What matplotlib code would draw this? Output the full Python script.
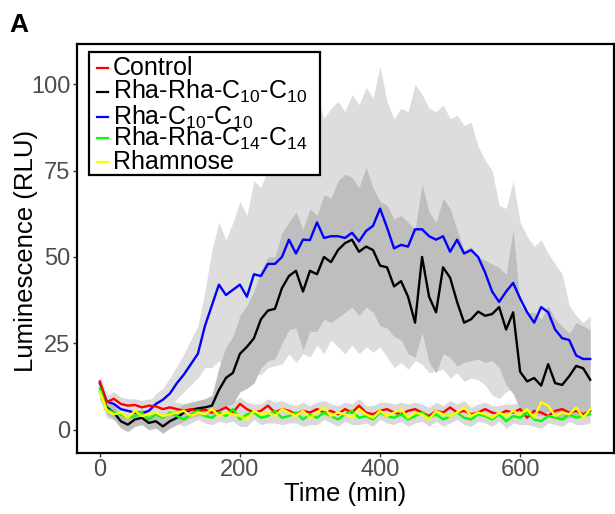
import matplotlib as mpl
mpl.use("Agg")
from matplotlib import pyplot as plt
from matplotlib.patches import Rectangle
from matplotlib.lines import Line2D
import numpy as np

mpl.rcParams["font.family"] = ["Liberation Sans", "DejaVu Sans"]
mpl.rcParams["mathtext.fontset"] = "custom"
mpl.rcParams["mathtext.rm"] = "Liberation Sans"
mpl.rcParams["mathtext.it"] = "Liberation Sans"

# time in minutes, one reading every 10 min
time = np.arange(0, 701, 10)

blue = [13.5, 8.2, 7.5, 6.0, 5.5, 5.0, 4.8, 5.5, 7.5, 8.7,
        10.5, 13.5, 16.0, 19.0, 22.0, 30.0, 36.0, 42.0, 39.0, 40.5,
        42.0, 38.5, 45.0, 44.5, 48.0, 48.0, 50.0, 55.0, 51.0, 55.0,
        54.9, 60.0, 55.5, 56.0, 56.0, 55.5, 57.0, 54.5, 57.5, 59.0,
        64.0, 58.5, 52.5, 53.5, 53.0, 58.0, 58.0, 56.0, 55.0, 56.0,
        51.5, 55.0, 51.0, 52.0, 50.0, 45.5, 40.0, 37.0, 40.0, 42.5,
        38.0, 34.0, 31.0, 35.5, 34.0, 29.0, 26.5, 26.0, 21.5, 20.5,
        20.5]
blue_hi = [15.5, 10.5, 9.5, 8.0, 7.5, 7.0, 7.0, 8.0, 10.5, 12.0,
           15.0, 18.5, 22.0, 26.0, 30.0, 40.0, 52.0, 60.0, 55.0, 60.0,
           66.0, 62.0, 72.0, 70.0, 76.0, 78.0, 82.0, 88.0, 84.0, 88.0,
           92.0, 96.0, 90.0, 93.0, 95.0, 92.0, 97.0, 94.0, 99.0, 96.0,
           105.0, 95.0, 90.0, 93.0, 92.0, 100.0, 97.0, 93.0, 92.0, 94.0,
           90.0, 91.0, 88.0, 89.0, 82.0, 78.0, 75.0, 65.0, 64.0, 72.0,
           60.0, 56.0, 53.0, 55.0, 51.0, 48.0, 45.0, 36.0, 33.0, 31.0,
           33.0]
blue_lo = [11.5, 6.0, 5.5, 4.0, 3.5, 3.0, 3.0, 3.5, 5.0, 6.0,
           7.0, 9.0, 11.0, 13.0, 15.0, 18.0, 18.0, 20.0, 17.0, 16.0,
           16.0, 13.0, 16.0, 16.0, 18.0, 18.5, 19.0, 22.0, 19.5, 22.0,
           21.0, 24.5, 22.0, 26.0, 24.0, 22.0, 24.5, 22.0, 24.0, 22.5,
           24.0, 21.0, 18.0, 19.5, 17.5, 20.0, 19.0, 16.5, 17.0, 17.5,
           15.0, 16.5, 14.0, 15.0, 14.5, 13.0, 10.0, 9.0, 11.0, 12.0,
           10.0, 9.5, 8.0, 10.0, 9.5, 8.5, 8.0, 9.5, 8.0, 8.5,
           9.0]

black = [11.0, 6.5, 5.0, 2.5, 1.5, 3.0, 3.5, 2.0, 2.5, 1.0,
         2.5, 3.5, 5.0, 5.8, 6.2, 6.5, 7.0, 11.5, 15.0, 16.5,
         22.0, 24.0, 26.5, 32.0, 34.5, 35.0, 41.0, 44.5, 46.0, 40.0,
         46.0, 45.0, 50.0, 48.5, 52.0, 54.0, 55.0, 51.5, 53.0, 52.0,
         47.5, 47.0, 41.5, 43.0, 38.5, 31.0, 50.0, 38.5, 34.0, 47.0,
         44.0, 37.0, 31.0, 32.0, 34.2, 33.0, 33.5, 35.5, 29.0, 34.0,
         16.8, 14.0, 15.0, 12.8, 19.0, 13.5, 13.0, 15.5, 18.5, 17.8,
         14.5]
black_hi = [13.0, 8.5, 7.0, 5.0, 4.0, 5.5, 6.0, 4.5, 5.0, 3.5,
            5.0, 6.0, 7.5, 8.0, 8.5, 9.0, 10.0, 18.0, 24.0, 27.0,
            33.0, 36.0, 40.0, 46.0, 50.0, 50.0, 57.0, 60.0, 63.0, 58.0,
            64.0, 62.0, 68.0, 67.0, 72.0, 74.0, 73.0, 70.0, 76.0, 70.0,
            66.0, 65.0, 61.0, 62.0, 60.0, 58.0, 71.0, 63.0, 60.0, 67.0,
            64.0, 58.0, 52.0, 53.0, 50.0, 49.0, 48.0, 47.0, 45.0, 58.0,
            36.0, 34.0, 34.0, 32.0, 36.0, 32.0, 30.0, 28.0, 31.0, 30.0,
            29.0]
black_lo = [9.0, 4.5, 3.0, 0.5, -0.5, 1.0, 1.5, 0.0, 0.5, -1.0,
            0.5, 1.5, 2.5, 3.5, 4.0, 4.0, 4.5, 6.0, 7.0, 7.5,
            11.0, 12.0, 13.5, 18.0, 20.0, 20.5, 25.0, 29.0, 29.5, 23.0,
            28.5, 28.5, 32.0, 31.0, 32.5, 34.0, 35.5, 33.0, 35.5, 34.0,
            30.0, 29.5, 27.0, 26.0, 22.0, 21.0, 28.0, 19.5, 16.5, 22.0,
            21.0, 18.5, 19.5, 20.0, 20.5, 19.5, 20.0, 18.0, 13.0, 10.5,
            6.0, 5.0, 4.5, 4.0, 5.5, 3.5, 3.0, 3.5, 4.0, 4.0,
            4.5]

red = [14.0, 8.0, 9.0, 7.5, 7.0, 7.2, 6.5, 7.0, 6.8, 6.0,
       6.5, 6.0, 5.5, 6.0, 5.5, 5.8, 5.0, 5.5, 6.5, 5.0,
       7.5, 6.0, 5.0, 5.5, 7.0, 5.0, 6.0, 5.5, 4.5, 5.5,
       5.0, 6.0, 5.0, 5.5, 4.5, 6.0, 5.0, 7.0, 5.0, 4.5,
       5.5, 6.0, 5.0, 4.5, 5.5, 6.0, 5.0, 4.0, 5.5, 5.0,
       6.5, 5.0, 5.5, 4.5, 5.0, 6.0, 5.0, 4.5, 5.5, 5.0,
       6.0, 3.5, 5.5, 5.0, 4.0, 5.5, 6.0, 5.0, 5.5, 4.5,
       5.5]
green = [12.0, 6.0, 5.0, 4.5, 3.5, 4.0, 5.0, 3.0, 4.5, 3.5,
         5.0, 4.0, 3.0, 4.5, 5.5, 4.0, 3.5, 5.0, 4.0, 6.0,
         3.0, 4.5, 5.0, 3.5, 4.0, 5.5, 3.5, 4.0, 5.0, 3.0,
         4.5, 3.5, 5.0, 4.0, 3.0, 4.5, 5.5, 3.5, 4.0, 3.0,
         5.0, 4.0, 3.5, 4.5, 3.0, 4.0, 5.0, 3.5, 4.5, 3.0,
         4.0, 5.0, 3.5, 3.0, 4.5, 4.0, 3.0, 4.5, 2.5, 4.0,
         3.5, 5.0, 3.0, 2.5, 4.0, 3.5, 3.0, 4.5, 3.5, 4.0,
         4.5]
yellow = [11.0, 5.5, 4.5, 5.0, 3.5, 5.5, 4.0, 4.5, 5.0, 4.0,
          4.5, 5.0, 5.5, 4.0, 5.0, 4.5, 6.0, 4.0, 5.0, 4.5,
          4.0, 3.0, 5.5, 4.5, 5.0, 4.0, 6.0, 5.0, 4.0, 5.5,
          3.5, 5.0, 6.5, 4.0, 5.0, 4.5, 3.5, 6.0, 4.5, 3.5,
          5.5, 4.0, 5.0, 6.0, 3.5, 5.0, 4.5, 3.0, 5.5, 4.5,
          4.0, 5.0, 6.5, 4.0, 5.0, 4.5, 3.5, 5.0, 4.0, 5.5,
          4.5, 6.0, 3.5, 8.0, 7.0, 4.0, 5.0, 4.5, 6.5, 3.5,
          6.0]
# envelope of the three flat series
flat_hi = [15.5, 10.0, 11.0, 9.5, 9.0, 9.0, 8.5, 9.0, 8.5, 8.0,
           8.5, 8.0, 7.5, 8.0, 8.0, 8.0, 8.0, 7.5, 8.5, 8.0,
           9.5, 8.0, 7.5, 7.5, 9.0, 8.0, 8.5, 7.5, 7.0, 8.0,
           7.0, 8.0, 8.5, 7.5, 7.0, 8.0, 7.5, 9.0, 7.0, 7.0,
           8.0, 8.0, 7.5, 8.0, 7.5, 8.0, 7.5, 6.5, 8.0, 7.0,
           8.5, 7.5, 8.5, 6.5, 7.5, 8.0, 7.0, 7.0, 7.5, 7.5,
           8.0, 8.0, 7.5, 10.0, 9.0, 7.5, 8.0, 7.0, 8.5, 6.5,
           8.0]
flat_lo = [9.0, 3.5, 3.0, 2.5, 1.5, 2.0, 2.0, 1.0, 2.5, 1.5,
           2.5, 2.0, 1.0, 2.0, 3.0, 2.0, 1.5, 2.5, 2.0, 2.5,
           1.0, 1.0, 3.0, 1.5, 2.0, 2.0, 1.5, 2.0, 2.0, 1.0,
           1.5, 1.5, 3.0, 2.0, 1.0, 2.5, 1.5, 1.5, 2.0, 1.0,
           3.0, 2.0, 1.5, 2.5, 1.0, 2.0, 2.5, 1.0, 2.5, 1.0,
           2.0, 3.0, 1.5, 1.0, 2.5, 2.0, 1.0, 2.5, 0.5, 2.0,
           1.5, 1.5, 1.0, 0.5, 2.0, 1.5, 1.0, 2.5, 1.5, 1.5,
           2.0]

labels = ["Control", "Rha-Rha-C$_{10}$-C$_{10}$", "Rha-C$_{10}$-C$_{10}$",
          "Rha-Rha-C$_{14}$-C$_{14}$", "Rhamnose"]
colors = ["#FF0000", "#000000", "#0000FF", "#00FF00", "#FFFF00"]

fig = plt.figure(figsize=(6.15, 5.14), dpi=100)
ax = fig.add_axes([0.1247, 0.1193, 0.8737, 0.7945])

ax.fill_between(time, flat_lo, flat_hi, color="#d9d9d9", lw=0)
ax.fill_between(time, blue_lo, blue_hi, color="#dddddd", lw=0)
ax.fill_between(time, black_lo, black_hi, color="#bebebe", lw=0)

lw = 1.7
ax.plot(time, black, color=colors[1], lw=lw)
ax.plot(time, blue, color=colors[2], lw=lw)
ax.plot(time, red, color=colors[0], lw=lw)
ax.plot(time, green, color=colors[3], lw=lw)
ax.plot(time, yellow, color=colors[4], lw=lw)

ax.set_xlim(-33, 734)
ax.set_ylim(-6.6, 111.5)
ax.set_xticks([0, 200, 400, 600])
ax.set_yticks([0, 25, 50, 75, 100])
ax.tick_params(direction="out", length=3, width=1, color="#333333",
               labelsize=17, labelcolor="#4D4D4D", pad=1.5)
for s in ax.spines.values():
    s.set_linewidth(1.6)
    s.set_color("black")

ax.set_xlabel("Time (min)", fontsize=18.5, labelpad=1)
ax.set_ylabel("Luminescence (RLU)", fontsize=18.5)
ax.yaxis.set_label_coords(-0.072, 0.493)

# legend box drawn by hand to get the tight ggplot spacing
ax.add_patch(Rectangle((0.0229, 0.680), 0.4299, 0.302, transform=ax.transAxes,
                       fill=True, facecolor="white", edgecolor="black",
                       lw=1.6, zorder=5))
key_y = [0.942, 0.884, 0.822, 0.770, 0.713]
for lab, c, y in zip(labels, colors, key_y):
    ax.add_line(Line2D([0.037, 0.058], [y, y], transform=ax.transAxes,
                       color=c, lw=1.6, zorder=6))
    ax.text(0.067, y, lab, transform=ax.transAxes, fontsize=18,
            va="center", ha="left", zorder=6)

fig.text(0.016, 0.975, "A", fontsize=19, fontweight="bold", va="top", ha="left")

fig.savefig("out.png", dpi=100)
